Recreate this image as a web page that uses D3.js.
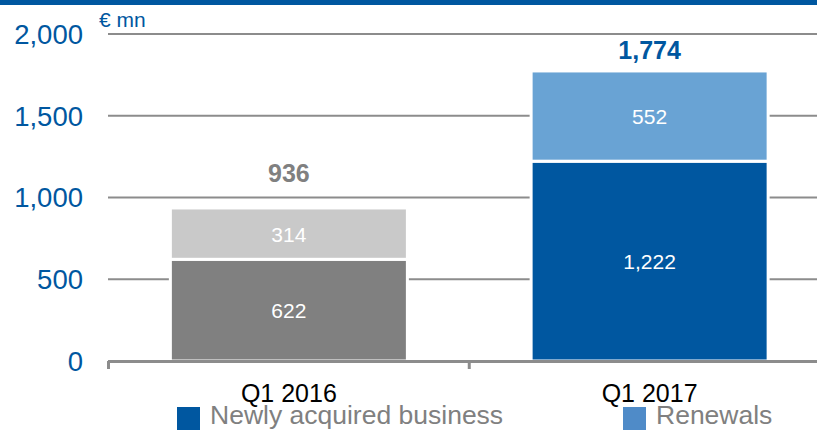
<!DOCTYPE html>
<html>
<head>
<meta charset="utf-8">
<script src="https://cdn.jsdelivr.net/npm/d3@7"></script>
<style>
  html, body { margin: 0; padding: 0; background: #fff; }
  svg { display: block; font-family: "Liberation Sans", Arial, sans-serif; }
</style>
</head>
<body>
<svg id="chart" width="817" height="431"></svg>
<script>
// Gross written premiums, € mn
const categories = ["Q1 2016", "Q1 2017"];
const newlyAcquired = [622, 1222];
const renewals = [314, 552];
const totals = [936, 1774];
const yTicks = [0, 500, 1000, 1500, 2000];
const seriesNames = ["Newly acquired business", "Renewals"];

// per-year palettes: [newly acquired, renewals]
const barColors = [["#808080", "#C9C9C9"], ["#0057A0", "#69A3D4"]];
const totalColors = ["#808080", "#0057A0"];
const legendColors = ["#0057A0", "#4F8BC8"];
const blue = "#0057A0";
const gridGray = "#8C8C8C";

const svg = d3.select("#chart");
const W = 817, H = 431;

const x = d3.scaleBand().domain(categories).range([108.5, 830])
  .paddingInner(0.343).paddingOuter(0.1715);
const y = d3.scaleLinear().domain([0, 2000]).range([361, 34]);

// top rule
svg.append("rect").attr("x", 0).attr("y", 0).attr("width", W).attr("height", 5).attr("fill", blue);

// gridlines
svg.append("g").selectAll("line").data(yTicks.filter(d => d > 0)).join("line")
  .attr("x1", 108).attr("x2", W)
  .attr("y1", d => y(d)).attr("y2", d => y(d))
  .attr("stroke", gridGray).attr("stroke-width", 2);

// y tick labels
svg.append("g").selectAll("text").data(yTicks).join("text")
  .attr("x", 83).attr("y", d => y(d)).attr("dy", "0.36em")
  .attr("text-anchor", "end").attr("font-size", 27.5).attr("fill", blue)
  .text(d => d3.format(",")(d));

// unit
svg.append("text").attr("x", 99).attr("y", 27).attr("font-size", 21).attr("fill", blue).text("€ mn");

// stacked segments
const stack = d3.stack().keys(["newly", "renewals"]);
const rows = categories.map((c, i) => ({ cat: c, i, newly: newlyAcquired[i], renewals: renewals[i] }));
const layers = stack(rows);

layers.forEach((layer, k) => {
  const g = svg.append("g");
  g.selectAll("rect").data(layer).join("rect")
    .attr("x", d => x(d.data.cat))
    .attr("width", x.bandwidth())
    .attr("y", d => y(d[1]))
    .attr("height", d => y(d[0]) - y(d[1]))
    .attr("fill", d => barColors[d.data.i][k])
    .attr("stroke", "#fff").attr("stroke-width", 3);
  g.selectAll("text").data(layer).join("text")
    .attr("x", d => x(d.data.cat) + x.bandwidth() / 2)
    .attr("y", d => (y(d[0]) + y(d[1])) / 2)
    .attr("dy", "0.38em")
    .attr("text-anchor", "middle").attr("font-size", 21).attr("fill", "#fff")
    .text(d => d3.format(",")(d[1] - d[0]));
});

// baseline and ticks
svg.append("line").attr("x1", 108).attr("x2", W).attr("y1", 361.5).attr("y2", 361.5)
  .attr("stroke", gridGray).attr("stroke-width", 3);
const boundaries = [x.range()[0], x.range()[0] + x.step()];
svg.append("g").selectAll("line").data(boundaries).join("line")
  .attr("x1", d => d).attr("x2", d => d).attr("y1", 361).attr("y2", 369)
  .attr("stroke", gridGray).attr("stroke-width", 3);

// totals: above the bar, but kept clear of the top gridline
svg.append("g").selectAll("text").data(totals).join("text")
  .attr("x", (d, i) => x(categories[i]) + x.bandwidth() / 2)
  .attr("y", d => Math.max(y(d) - 26, y(2000) + 25))
  .attr("text-anchor", "middle").attr("font-size", 25).attr("font-weight", "bold")
  .attr("fill", (d, i) => totalColors[i])
  .text(d => d3.format(",")(d));

// category labels
svg.append("g").selectAll("text").data(categories).join("text")
  .attr("x", d => x(d) + x.bandwidth() / 2).attr("y", 402)
  .attr("text-anchor", "middle").attr("font-size", 25).attr("fill", "#000")
  .text(d => d);

// legend
const legendX = [177, 623];
const lg = svg.append("g").selectAll("g").data(seriesNames).join("g")
  .attr("transform", (d, i) => `translate(${legendX[i]},0)`);
lg.append("rect").attr("x", 0).attr("y", 407).attr("width", 23).attr("height", 23)
  .attr("fill", (d, i) => legendColors[i]);
lg.append("text").attr("x", 33).attr("y", 424).attr("font-size", 26.5).attr("fill", "#808080")
  .text(d => d);
</script>
</body>
</html>
